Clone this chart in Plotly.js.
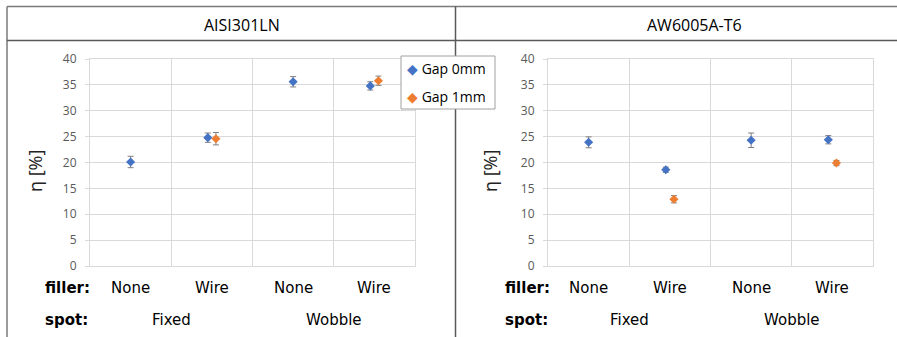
<!DOCTYPE html>
<html>
<head>
<meta charset="utf-8">
<script src="https://cdn.plot.ly/plotly-3.0.1.min.js"></script>
<style>html,body{margin:0;padding:0;background:#fff;}#chart{width:897px;height:337px;}</style>
</head>
<body>
<div id="chart"></div>
<script>
// ---- data ----
const panels = ["AISI301LN", "AW6005A-T6"];
const filler = ["None", "Wire", "None", "Wire"];
const spot = ["Fixed", "Wobble"];
const seriesNames = ["Gap 0mm", "Gap 1mm"];
const yTicks = [0, 5, 10, 15, 20, 25, 30, 35, 40];

const aisiGap0 = [20.1, 24.8, 35.6, 34.8];
const aisiGap0Err = [1.1, 0.9, 1.0, 0.8];
const aisiGap1 = [null, 24.6, null, 35.8];
const aisiGap1Err = [null, 1.2, null, 0.9];

const awGap0 = [23.9, 18.6, 24.3, 24.4];
const awGap0Err = [1.05, 0.5, 1.4, 0.8];
const awGap1 = [null, 12.9, null, 19.9];
const awGap1Err = [null, 0.7, null, 0.5];

// ---- layout helpers ----
const W = 897, H = 337;
const px = v => v / W;
const py = v => 1 - v / H;
const colors = ["#4472C4", "#ED7D31"];
const OFF = 0.05;

function positions(own, other) {
  return own.map((v, i) => {
    if (v === null) return null;
    const both = own[i] !== null && other[i] !== null;
    return both ? (i + 1) + (own === other ? 0 : 0) : i + 1;
  });
}
function xs(series, idx, other) {
  return series.map((v, i) => {
    if (v === null) return null;
    const both = other[i] !== null;
    return both ? (i + 1) + (idx === 0 ? -OFF : OFF) : i + 1;
  });
}
function trace(x, y, err, c, xa, ya, name) {
  return {
    type: "scatter", mode: "markers", x: x, y: y, name: name,
    xaxis: xa, yaxis: ya, showlegend: false, cliponaxis: false,
    marker: {symbol: "diamond", size: 7, color: c},
    error_y: {type: "data", array: err, visible: true, color: "#7f7f7f", thickness: 1, width: 3}
  };
}

const data = [
  trace(xs(aisiGap0, 0, aisiGap1), aisiGap0, aisiGap0Err, colors[0], "x", "y", seriesNames[0]),
  trace(xs(aisiGap1, 1, aisiGap0), aisiGap1, aisiGap1Err, colors[1], "x", "y", seriesNames[1]),
  trace(xs(awGap0, 0, awGap1), awGap0, awGap0Err, colors[0], "x2", "y2", seriesNames[0]),
  trace(xs(awGap1, 1, awGap0), awGap1, awGap1Err, colors[1], "x2", "y2", seriesNames[1])
];

const gridC = "#d9d9d9";
function xaxis(dom, anchor) {
  return {
    domain: dom, anchor: anchor, range: [0.5, 4.5],
    tickvals: [0.5, 1.5, 2.5, 3.5, 4.5], showticklabels: false, ticks: "",
    showgrid: true, gridcolor: gridC, gridwidth: 1, zeroline: false,
    showline: true, linecolor: gridC, linewidth: 1, mirror: true, fixedrange: true
  };
}
function yaxis(anchor) {
  return {
    domain: [py(266), py(59)], anchor: anchor, range: [0, 40],
    tickvals: yTicks, ticktext: yTicks.map(String),
    ticks: "outside", ticklen: 4, tickcolor: gridC, ticklabelstandoff: 6,
    tickfont: {family: "Open Sans", size: 12, color: "#595959"},
    showgrid: true, gridcolor: gridC, gridwidth: 1, zeroline: false,
    showline: true, linecolor: gridC, linewidth: 1, mirror: true, fixedrange: true
  };
}

const frameC = "#7a7a7a";
const shapes = [
  {type: "line", xref: "paper", yref: "paper", x0: px(7), x1: px(897), y0: py(6.5), y1: py(6.5), line: {color: frameC, width: 1.5}},
  {type: "line", xref: "paper", yref: "paper", x0: px(7), x1: px(7), y0: py(6.5), y1: py(337), line: {color: frameC, width: 1.5}},
  {type: "line", xref: "paper", yref: "paper", x0: px(7), x1: px(897), y0: py(40.5), y1: py(40.5), line: {color: "#5a5a5a", width: 1.3}},
  {type: "line", xref: "paper", yref: "paper", x0: px(455.5), x1: px(455.5), y0: py(6.5), y1: py(337), line: {color: "#5a5a5a", width: 1.5}},
  // legend box
  {type: "rect", xref: "paper", yref: "paper", x0: px(401), x1: px(495), y0: py(56), y1: py(109), fillcolor: "#ffffff", line: {color: "#a0a0a0", width: 1}, layer: "above"}
];

const txtFont = {family: "DejaVu Sans", size: 15, color: "#000"};
const boldFont = {family: "DejaVu Sans", size: 15, color: "#000", weight: "bold"};
const annotations = [];
function ann(o) { annotations.push(Object.assign({showarrow: false}, o)); }

// panel titles
ann({xref: "paper", yref: "paper", x: px(242), y: py(25), text: panels[0], xanchor: "center", yanchor: "middle", font: {family: "Open Sans", size: 16, color: "#000"}});
ann({xref: "paper", yref: "paper", x: px(694), y: py(25), text: panels[1], xanchor: "center", yanchor: "middle", font: {family: "Open Sans", size: 16, color: "#000"}});

// y titles
[[35], [490]].forEach(([xp]) => {
  ann({xref: "paper", yref: "paper", x: px(xp), y: py(171), text: "η [%]", textangle: -90, xanchor: "center", yanchor: "middle", font: {family: "Open Sans", size: 18, color: "#222"}});
});

// bottom labels
[["x", 43], ["x2", 503]].forEach(([xa, lx]) => {
  ann({xref: "paper", yref: "paper", x: px(lx), y: py(288), text: "<b>filler:</b>", xanchor: "left", yanchor: "middle", font: boldFont});
  ann({xref: "paper", yref: "paper", x: px(lx), y: py(320), text: "<b>spot:</b>", xanchor: "left", yanchor: "middle", font: boldFont});
  filler.forEach((f, i) => ann({xref: xa, yref: "paper", x: i + 1, y: py(288), text: f, xanchor: "center", yanchor: "middle", font: txtFont}));
  spot.forEach((s, i) => ann({xref: xa, yref: "paper", x: 1.5 + 2 * i, y: py(320), text: s, xanchor: "center", yanchor: "middle", font: txtFont}));
});

// legend entries
seriesNames.forEach((n, i) => {
  ann({xref: "paper", yref: "paper", x: px(405), y: py(68.5 + 28 * i),
       text: '<span style="color:' + colors[i] + '">◆</span> ' + n,
       xanchor: "left", yanchor: "middle", font: {family: "Open Sans", size: 14, color: "#000"}});
});

const layout = {
  width: W, height: H, margin: {l: 0, r: 0, t: 0, b: 0},
  paper_bgcolor: "#fff", plot_bgcolor: "#fff", showlegend: false,
  xaxis: xaxis([px(90), px(415)], "y"),
  yaxis: yaxis("x"),
  xaxis2: xaxis([px(548), px(873)], "y2"),
  yaxis2: yaxis("x2"),
  shapes: shapes, annotations: annotations
};

Plotly.newPlot("chart", data, layout, {staticPlot: true, displayModeBar: false});
</script>
</body>
</html>
